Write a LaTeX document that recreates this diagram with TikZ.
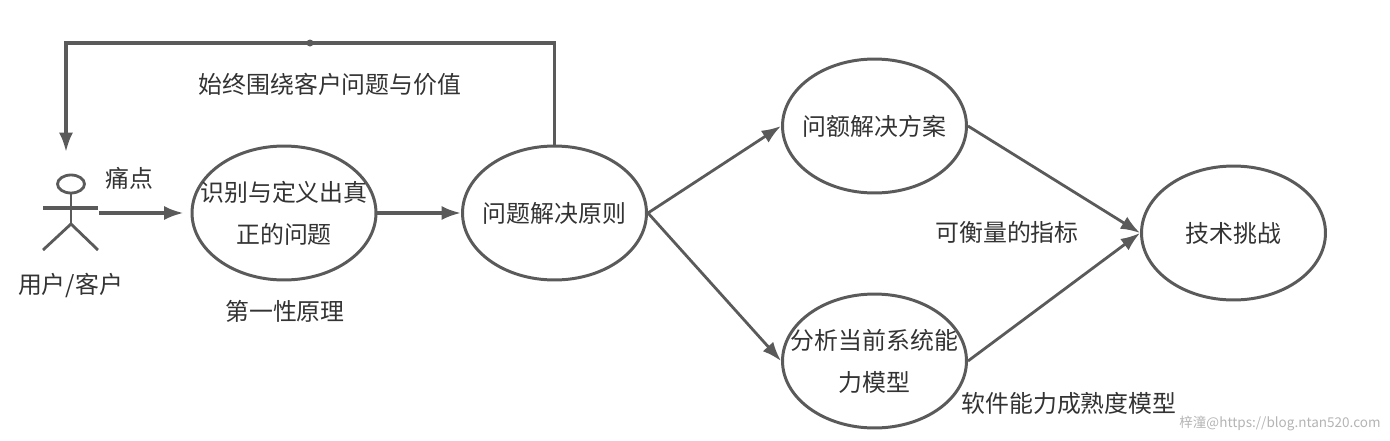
\documentclass[tikz,border=0pt]{standalone}
\usepackage{fontspec}
\usepackage{tikz}
\usetikzlibrary{arrows.meta,shapes.geometric}
\newfontfamily\cjk{Noto Sans CJK SC}
\definecolor{linegray}{HTML}{5A5A5A}
\definecolor{textgray}{HTML}{333333}
\definecolor{markgray}{HTML}{B4B4B4}
\tikzset{
  stage/.style={draw=linegray,line width=1.7pt,shape=ellipse,minimum width=3.68cm,minimum height=2.68cm,inner sep=0pt},
  every label/.style={align=center,text=textgray,font=\cjk\fontsize{13.6}{23.8}\selectfont},
  note/.style={align=center,text=textgray,font=\cjk\fontsize{13.6}{23.8}\selectfont},
  flow/.style={draw=linegray,line width=1.9pt,-{Latex[length=11pt,width=8pt]}},
  thinflow/.style={draw=linegray,line width=1.6pt,-{Latex[length=11pt,width=8pt]}},
  figure/.style={draw=linegray,line width=1.6pt}
}
\begin{document}
\begin{tikzpicture}[x=0.02cm,y=-0.02cm]
\useasboundingbox (0,0) rectangle (1390,440);
% stages
\node[stage,label=center:{识别与定义出真\\正的问题}] (problem) at (284,213) {};
\node[stage,label=center:{问题解决原则}] (principle) at (554.5,213) {};
\node[stage,label=center:{问额解决方案}] (solution) at (874.5,126) {};
\node[stage,label=center:{分析当前系统能\\力模型}] (model) at (874.5,361) {};
\node[stage,label=center:{技术挑战}] (challenge) at (1233.5,233) {};
% stick figure
\node[draw=linegray,line width=1.6pt,shape=ellipse,minimum width=0.54cm,minimum height=0.36cm,inner sep=0pt] (head) at (71,184) {};
\coordinate (hip) at (71,224);
\coordinate (handl) at (43,208);
\coordinate (handr) at (98,208);
\coordinate (footl) at (43,250);
\coordinate (footr) at (98,250);
\draw[figure] (head.south) -- (hip);
\draw[figure,line width=2pt] (handl) -- (handr);
\draw[figure] (footl) -- (hip) -- (footr);
% connectors
\coordinate (user) at (99,213);
\coordinate (looptop) at (66,43);
\coordinate (userabove) at (66,152);
\draw[flow,shorten >=0.14cm] (user) -- (problem.west);
\draw[flow] (problem.east) -- (principle.west);
\draw[flow] (principle.north) |- (looptop) -- (userabove);
\node[circle,fill=linegray,inner sep=0pt,minimum size=0.14cm] (loopdot) at (310,43) {};
\draw[thinflow] (principle.east) -- (solution.west);
\draw[thinflow] (principle.east) -- (model.west);
\draw[thinflow] (solution.east) -- (challenge.west);
\draw[thinflow] (model.east) -- (challenge.west);
% labels
\node[note] (usertext) at (70.5,285) {用户/客户};
\node[note] (paintext) at (129,178) {痛点};
\node[note] (firsttext) at (285,311) {第一性原理};
\node[note] (valuetext) at (330,84) {始终围绕客户问题与价值};
\node[note] (metrictext) at (1007,232) {可衡量的指标};
\node[note] (maturitytext) at (1069,403) {软件能力成熟度模型};
\node[text=markgray,font=\cjk\fontsize{7.7}{10}\selectfont] (marktext) at (1280,423) {梓潼@https://blog.ntan520.com};
\end{tikzpicture}
\end{document}
